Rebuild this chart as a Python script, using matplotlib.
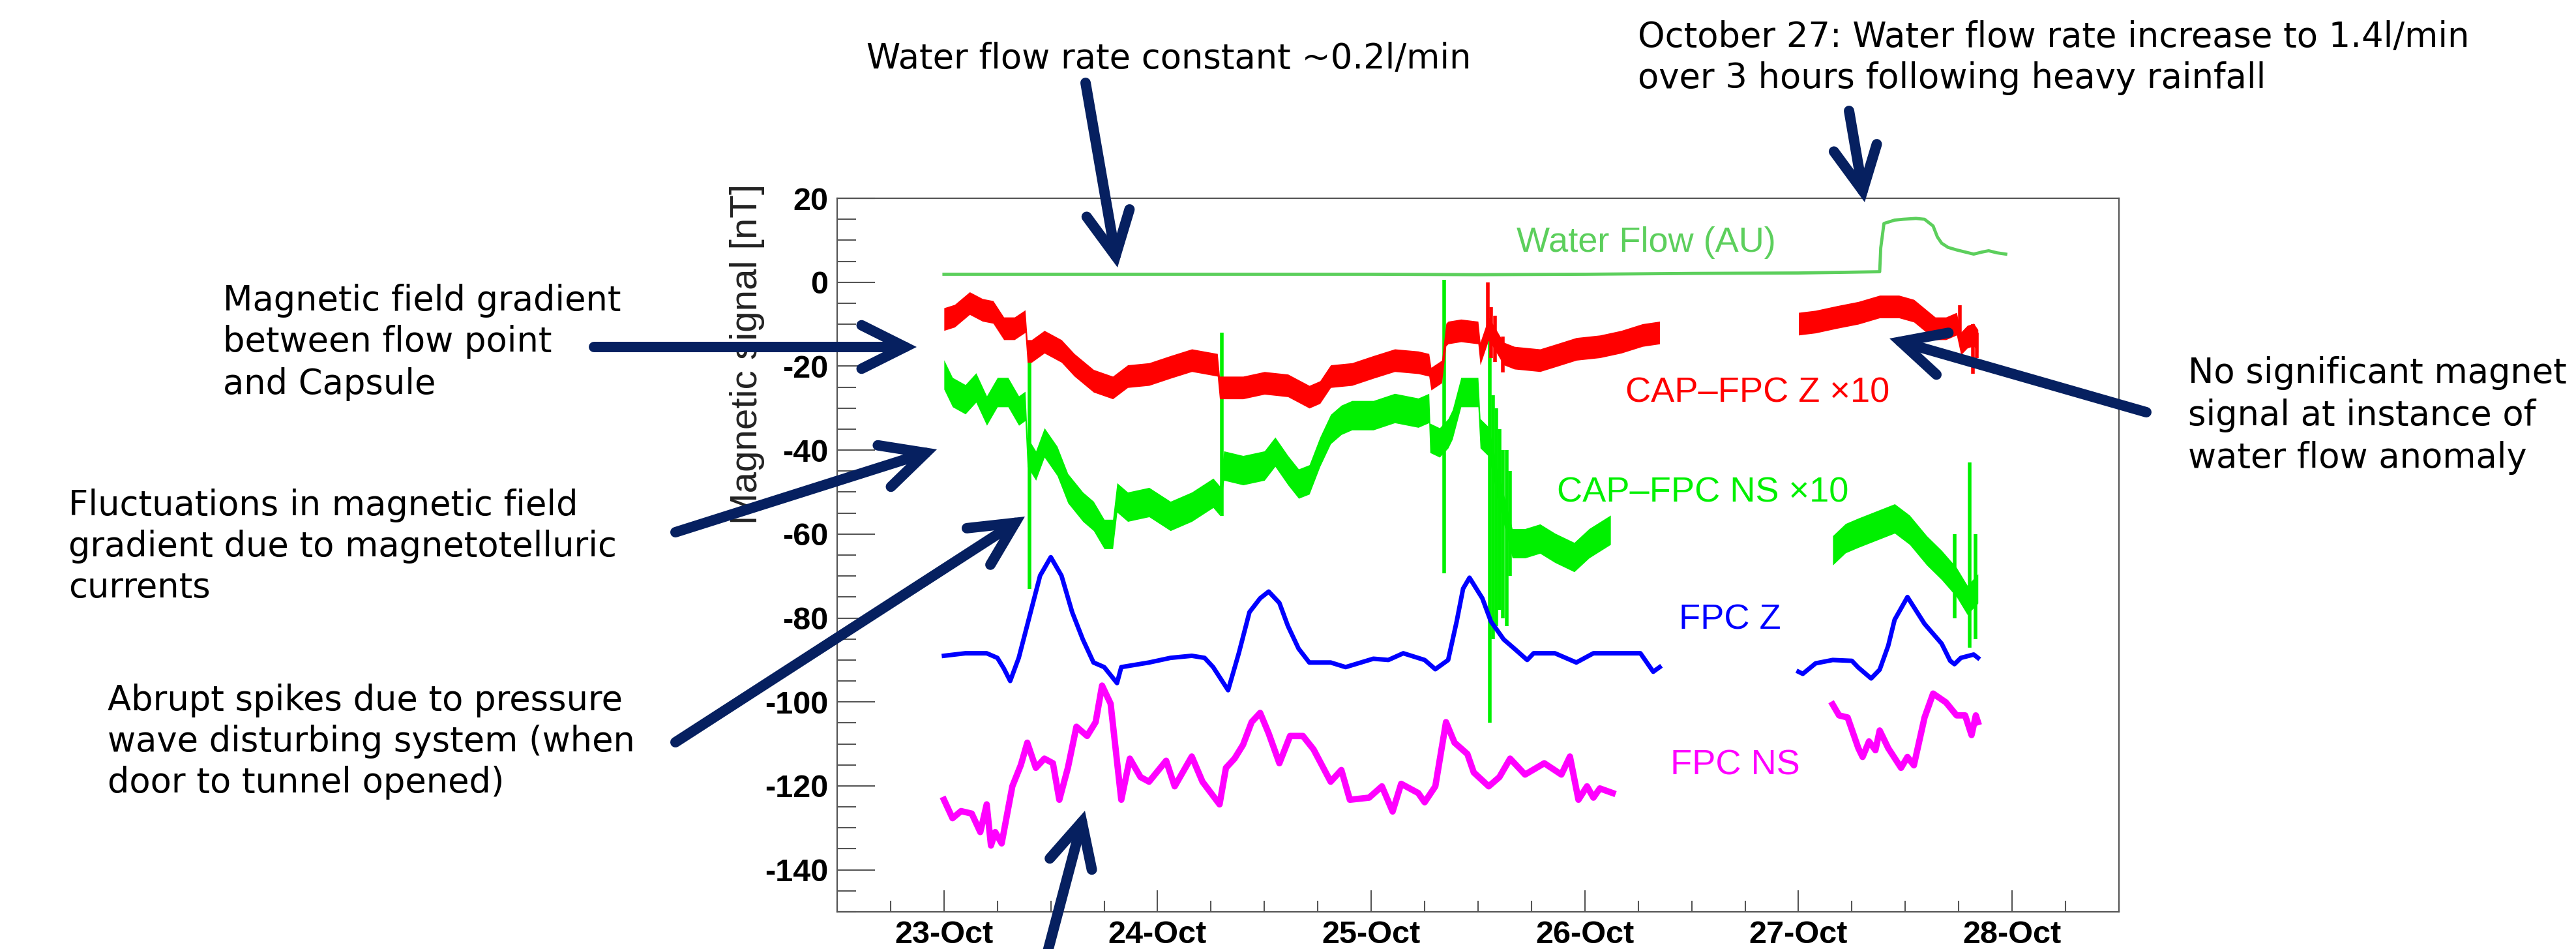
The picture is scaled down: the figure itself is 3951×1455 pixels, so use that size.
import matplotlib
matplotlib.use("Agg")
import matplotlib.pyplot as plt
import matplotlib.ticker as mticker
from matplotlib.patches import FancyArrowPatch, ArrowStyle
import numpy as np

plt.rcParams['axes.unicode_minus'] = False

# ---------------- data (day of October, value in nT) ----------------
RED_DAYS_A = [23.00, 23.05, 23.12, 23.18, 23.23, 23.28, 23.33, 23.38, 23.39, 23.41,
              23.47, 23.55, 23.61, 23.70, 23.79, 23.86, 23.96, 24.06, 24.16, 24.28,
              24.29, 24.32, 24.40, 24.50, 24.61, 24.71, 24.76, 24.81, 24.91, 25.01,
              25.11, 25.22, 25.27, 25.28, 25.33, 25.35, 25.36, 25.42, 25.50, 25.51,
              25.55, 25.60, 25.62, 25.67, 25.79, 25.86, 25.96, 26.07, 26.17, 26.27, 26.35]
RED_A = [-8.8, -8.0, -5.0, -6.6, -7.1, -11.0, -11.0, -9.3, -16.4, -16.4,
         -14.2, -16.4, -19.7, -23.5, -25.1, -22.4, -21.9, -20.2, -18.6, -19.7,
         -25.1, -25.1, -25.1, -24.0, -24.6, -27.3, -26.2, -22.4, -21.9, -20.2,
         -18.6, -19.1, -19.7, -23.0, -21.3, -12.5, -12.0, -11.5, -12.0, -17.0,
         -11.0, -15.3, -17.0, -18.0, -18.6, -17.5, -15.9, -15.3, -14.2, -12.6, -12.0]
RED_DAYS_B = [27.00, 27.08, 27.18, 27.28, 27.38, 27.47, 27.54, 27.59, 27.64, 27.69,
              27.74, 27.76, 27.79, 27.82, 27.84]
RED_B = [-9.9, -9.4, -8.3, -7.3, -5.8, -5.8, -6.8, -8.9, -11.0, -11.0,
         -9.9, -14.6, -13.0, -12.5, -14.0]
RED_SPIKE_DAYS = [25.545, 25.56, 25.58, 25.615, 27.755, 27.815, 27.835]
RED_SPIKE_HI = [0.0, -6.0, -8.0, -13.0, -5.5, -10.0, -12.0]
RED_SPIKE_LO = [-14.0, -18.0, -19.0, -21.5, -12.0, -21.8, -18.0]

GRN_DAYS_A = [23.00, 23.04, 23.10, 23.15, 23.20, 23.25, 23.30, 23.35, 23.38, 23.39,
              23.43, 23.47, 23.53, 23.58, 23.65, 23.70, 23.75, 23.79, 23.81, 23.86,
              23.96, 24.06, 24.16, 24.26, 24.29, 24.31, 24.40, 24.50, 24.55, 24.61,
              24.66, 24.71, 24.76, 24.81, 24.86, 24.91, 25.01, 25.11, 25.22, 25.27,
              25.275, 25.32, 25.36, 25.38, 25.42, 25.50, 25.51, 25.55, 25.60, 25.64,
              25.66, 25.72, 25.79, 25.86, 25.95, 26.02, 26.12]
GRN_A = [-22.0, -26.2, -27.9, -25.1, -30.6, -26.2, -26.2, -30.6, -29.5, -40.4,
         -43.7, -38.2, -42.6, -49.1, -53.5, -55.7, -60.0, -60.0, -51.3, -53.5,
         -52.4, -55.7, -53.5, -50.2, -52.0, -43.7, -44.8, -43.7, -40.4, -44.8,
         -48.0, -47.0, -40.4, -35.0, -32.8, -31.7, -31.7, -30.0, -31.1, -30.0,
         -37.1, -38.2, -36.0, -33.9, -26.2, -26.2, -36.0, -38.0, -50.0, -58.0,
         -62.2, -62.2, -61.1, -63.3, -65.5, -62.2, -59.0]
GRN_DAYS_B = [27.16, 27.22, 27.28, 27.38, 27.45, 27.52, 27.60, 27.67, 27.74, 27.79, 27.84]
GRN_B = [-63.9, -61.0, -59.7, -57.7, -56.3, -59.0, -63.9, -67.4, -71.5, -75.7, -73.0]
GRN_SPIKE_DAYS = [23.40, 24.30, 25.34, 25.555, 25.57, 25.585, 25.60, 25.615, 25.635, 25.65,
                  27.73, 27.80, 27.83]
GRN_SPIKE_HI = [-18.6, -12.0, 0.5, -12.0, -27.0, -30.0, -35.0, -40.0, -40.0, -45.0,
                -60.0, -43.0, -60.0]
GRN_SPIKE_LO = [-73.1, -55.7, -69.3, -105.0, -85.0, -82.0, -78.0, -80.0, -82.0, -70.0,
                -80.0, -87.0, -85.0]

BLUE_DAYS_A = [23.00, 23.10, 23.20, 23.25, 23.28, 23.31, 23.35, 23.40, 23.45, 23.50,
               23.55, 23.60, 23.65, 23.70, 23.75, 23.81, 23.83, 23.96, 24.06, 24.16,
               24.22, 24.26, 24.33, 24.38, 24.43, 24.48, 24.52, 24.57, 24.61, 24.66,
               24.71, 24.81, 24.88, 25.01, 25.08, 25.15, 25.25, 25.30, 25.36, 25.40,
               25.43, 25.46, 25.52, 25.56, 25.62, 25.67, 25.73, 25.76, 25.86, 25.96,
               26.04, 26.17, 26.26, 26.32, 26.35]
BLUE_A = [-89.0, -88.4, -88.4, -89.5, -92.0, -95.0, -89.5, -79.7, -69.9, -65.5,
          -69.9, -78.6, -85.1, -90.6, -91.7, -95.5, -91.7, -90.6, -89.5, -89.0,
          -89.5, -91.7, -97.2, -88.4, -78.6, -75.3, -73.7, -76.4, -81.9, -87.3,
          -90.6, -90.6, -91.7, -89.7, -90.0, -88.4, -90.0, -92.2, -90.0, -80.8,
          -73.0, -70.4, -75.3, -80.8, -85.1, -87.3, -90.0, -88.4, -88.4, -90.6,
          -88.4, -88.4, -88.4, -92.8, -91.7]
BLUE_DAYS_B = [27.00, 27.02, 27.08, 27.16, 27.25, 27.28, 27.34, 27.38, 27.42, 27.45,
               27.51, 27.59, 27.67, 27.71, 27.73, 27.76, 27.82, 27.84]
BLUE_B = [-92.8, -93.3, -90.8, -90.0, -90.2, -91.8, -94.4, -92.3, -86.6, -80.4,
          -75.0, -81.4, -86.1, -90.2, -91.0, -89.5, -88.7, -89.5]

MAG_DAYS_A = [23.00, 23.04, 23.08, 23.13, 23.17, 23.20, 23.22, 23.24, 23.27, 23.32,
              23.36, 23.39, 23.43, 23.47, 23.51, 23.54, 23.58, 23.62, 23.67, 23.71,
              23.74, 23.78, 23.83, 23.87, 23.92, 23.96, 24.04, 24.08, 24.16, 24.21,
              24.29, 24.32, 24.36, 24.40, 24.44, 24.48, 24.52, 24.57, 24.62, 24.68,
              24.73, 24.81, 24.86, 24.90, 24.99, 25.05, 25.10, 25.14, 25.22, 25.25,
              25.30, 25.35, 25.39, 25.45, 25.48, 25.55, 25.60, 25.65, 25.72, 25.81,
              25.89, 25.93, 25.97, 26.01, 26.04, 26.07, 26.13]
MAG_A = [-123.3, -127.7, -126.0, -126.6, -131.0, -124.4, -134.2, -131.0, -133.7, -120.1,
         -115.0, -109.7, -115.7, -113.5, -114.6, -123.3, -115.7, -105.9, -108.1, -104.8,
         -96.1, -100.4, -123.3, -113.5, -117.9, -119.0, -114.0, -120.1, -113.0, -119.0,
         -124.4, -115.7, -113.5, -110.2, -104.8, -102.6, -107.5, -114.6, -108.1, -108.1,
         -111.3, -119.0, -116.2, -123.3, -122.8, -120.1, -126.1, -119.5, -121.7, -123.9,
         -120.1, -104.8, -109.7, -112.4, -116.8, -120.1, -117.9, -113.5, -117.3, -114.6,
         -117.3, -113.0, -123.3, -120.1, -122.8, -120.6, -121.7]
MAG_DAYS_B = [27.16, 27.19, 27.23, 27.28, 27.30, 27.33, 27.36, 27.38, 27.42, 27.48,
              27.51, 27.54, 27.59, 27.63, 27.69, 27.74, 27.78, 27.81, 27.83, 27.84]
MAG_B = [-100.6, -103.2, -103.7, -111.0, -113.1, -109.4, -111.5, -106.8, -111.0, -115.7,
         -113.1, -115.1, -103.7, -98.0, -100.1, -103.2, -103.2, -107.9, -103.2, -104.8]

FLOW_DAYS = [23.00, 24.00, 25.00, 25.50, 26.00, 26.50, 27.00, 27.38, 27.385, 27.40,
             27.45, 27.49, 27.55, 27.59, 27.63, 27.65, 27.67, 27.70, 27.74, 27.78,
             27.82, 27.86, 27.89, 27.93, 27.97]
FLOW = [1.9, 1.9, 1.9, 1.8, 1.9, 2.1, 2.2, 2.5, 8.2, 14.0,
        14.8, 15.0, 15.2, 15.0, 13.4, 10.8, 9.3, 8.3, 7.7, 7.2,
        6.7, 7.2, 7.5, 7.0, 6.7]

X_TICK_DAYS = [23, 24, 25, 26, 27, 28]
X_TICK_LABELS = ['23-Oct', '24-Oct', '25-Oct', '26-Oct', '27-Oct', '28-Oct']
Y_TICKS = [-140, -120, -100, -80, -60, -40, -20, 0, 20]

# ---------------- styles ----------------
W, H = 3951, 1455
RED = '#ff0000'
GRN = '#00f000'
BLUE = '#0000ff'
MAG = '#ff00ff'
FLOWC = '#5ccf5c'
NAVY = '#062060'
AXC = '#555555'
RED_HALF = 2.7
GRN_HALF = 3.5


def fx(px):
    return px / W


def fy(py):
    return 1 - py / H


fig = plt.figure(figsize=(W / 100, H / 100), dpi=100)
fig.patch.set_facecolor('white')
ax = fig.add_axes([fx(1284), fy(1398), fx(3250) - fx(1284), fy(304) - fy(1398)])

# noisy gradient bands
for d, v in ((RED_DAYS_A, RED_A), (RED_DAYS_B, RED_B)):
    d = np.array(d); v = np.array(v)
    ax.fill_between(d, v - RED_HALF, v + RED_HALF, color=RED, lw=0, zorder=3)
ax.vlines(RED_SPIKE_DAYS, RED_SPIKE_LO, RED_SPIKE_HI, color=RED, lw=4, zorder=3)
for d, v in ((GRN_DAYS_A, GRN_A), (GRN_DAYS_B, GRN_B)):
    d = np.array(d); v = np.array(v)
    ax.fill_between(d, v - GRN_HALF, v + GRN_HALF, color=GRN, lw=0, zorder=2)
ax.vlines(GRN_SPIKE_DAYS, GRN_SPIKE_LO, GRN_SPIKE_HI, color=GRN, lw=4, zorder=2)

for d, v in ((BLUE_DAYS_A, BLUE_A), (BLUE_DAYS_B, BLUE_B)):
    ax.plot(d, v, color=BLUE, lw=5, solid_joinstyle='round', zorder=4)
for d, v in ((MAG_DAYS_A, MAG_A), (MAG_DAYS_B, MAG_B)):
    ax.plot(d, v, color=MAG, lw=7, solid_joinstyle='round', zorder=4)
ax.plot(FLOW_DAYS, FLOW, color=FLOWC, lw=3.5, zorder=4)

# series labels
lab_kw = dict(fontsize=39, family='Liberation Sans', ha='left', va='baseline')
ax.text(25.68, 7.3, 'Water Flow (AU)', color=FLOWC, **lab_kw)
ax.text(26.19, -28.6, 'CAP\u2013FPC Z \u00d710', color=RED, **lab_kw)
ax.text(25.87, -52.4, 'CAP\u2013FPC NS \u00d710', color=GRN, **lab_kw)
ax.text(26.44, -82.6, 'FPC Z', color=BLUE, **lab_kw)
ax.text(26.40, -117.3, 'FPC NS', color=MAG, **lab_kw)

# axes styling
ax.set_xlim(22.5, 28.5)
ax.set_ylim(-150, 20)
ax.xaxis.set_major_locator(mticker.FixedLocator(X_TICK_DAYS))
ax.xaxis.set_major_formatter(mticker.FixedFormatter(X_TICK_LABELS))
ax.xaxis.set_minor_locator(mticker.MultipleLocator(0.25))
ax.yaxis.set_major_locator(mticker.FixedLocator(Y_TICKS))
ax.yaxis.set_minor_locator(mticker.MultipleLocator(5))
for s in ax.spines.values():
    s.set_color(AXC)
    s.set_linewidth(1.6)
ax.tick_params(axis='both', which='both', direction='in', color=AXC, width=1.5,
               top=False, right=False)
ax.tick_params(axis='y', which='major', length=42, pad=10)
ax.tick_params(axis='y', which='minor', length=21)
ax.tick_params(axis='x', which='major', length=24, pad=9)
ax.tick_params(axis='x', which='minor', length=12)
for lab in ax.get_xticklabels() + ax.get_yticklabels():
    lab.set_fontfamily('Liberation Sans')
    lab.set_fontweight('bold')
    lab.set_fontsize(35)

fig.text(fx(1146), fy(282), 'Magnetic signal [nT]', rotation=90, ha='center', va='top',
         fontsize=42, family='Liberation Sans', color='#222222')

# annotations
note_kw = dict(fontsize=38, family='DejaVu Sans', ha='left', va='baseline', color='black')
notes = [
    (1329, [105], ['Water flow rate constant ~0.2l/min']),
    (2512, [72, 135], ['October 27: Water flow rate increase to 1.4l/min',
                       'over 3 hours following heavy rainfall']),
    (342, [476, 539, 604], ['Magnetic field gradient', 'between flow point', 'and Capsule']),
    (105, [790, 853, 917], ['Fluctuations in magnetic field',
                            'gradient due to magnetotelluric', 'currents']),
    (165, [1089, 1152, 1215], ['Abrupt spikes due to pressure',
                               'wave disturbing system (when', 'door to tunnel opened)']),
    (3356, [587, 652, 717], ['No significant magnet', 'signal at instance of',
                             'water flow anomaly']),
]
for left, bases, lines in notes:
    for b, line in zip(bases, lines):
        fig.text(fx(left), fy(b), line, **note_kw)

arrows = [
    ((1665, 127), (1714, 410)),
    ((2836, 170), (2860, 310)),
    ((911, 532), (1406, 532)),
    ((1036, 816), (1437, 689)),
    ((1036, 1138), (1572, 792)),
    ((1596, 1500), (1664, 1243)),
    ((3292, 632), (2898, 519)),
]
style = ArrowStyle('->', head_length=48, head_width=24)
for (x0, y0), (x1, y1) in arrows:
    p = FancyArrowPatch((fx(x0), fy(y0)), (fx(x1), fy(y1)), transform=fig.transFigure,
                        arrowstyle=style, mutation_scale=1, lw=11.5, color=NAVY,
                        shrinkA=0, shrinkB=0, capstyle='round', joinstyle='miter',
                        zorder=10)
    fig.add_artist(p)

fig.savefig('out.png', dpi=100, facecolor='white')
